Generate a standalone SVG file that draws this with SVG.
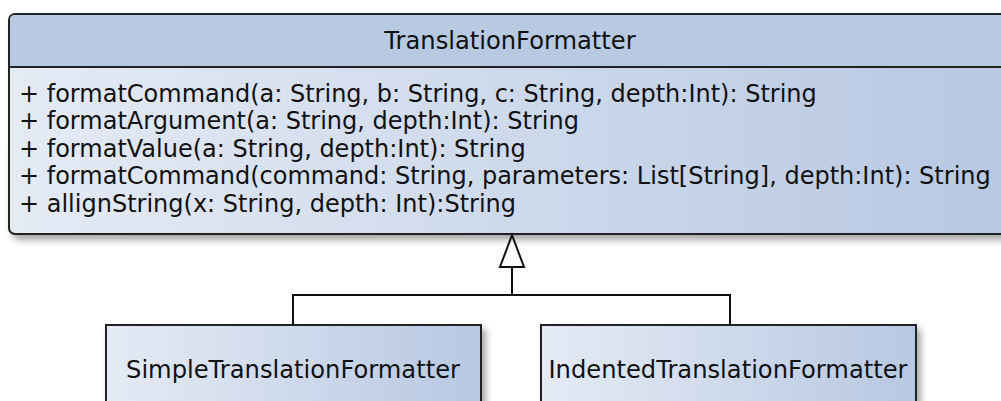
<svg xmlns="http://www.w3.org/2000/svg" width="1001" height="401" viewBox="0 0 1001 401">
  <defs>
    <linearGradient id="bodyFill" gradientUnits="userSpaceOnUse" x1="9" y1="0" x2="1010" y2="0">
      <stop offset="0" stop-color="#e5ebf5"/>
      <stop offset="1" stop-color="#b7c8e2"/>
    </linearGradient>
    <linearGradient id="leafFill" x1="0" y1="0" x2="1" y2="0">
      <stop offset="0" stop-color="#e5ebf5"/>
      <stop offset="1" stop-color="#b7c8e2"/>
    </linearGradient>
    <filter id="shadow" x="-10%" y="-10%" width="130%" height="140%">
      <feDropShadow dx="4" dy="5" stdDeviation="3.5" flood-color="#000" flood-opacity="0.35"/>
    </filter>
  </defs>
  <style>
    text { font-family: "DejaVu Sans", "Liberation Sans", sans-serif; fill: #111; }
    .title { font-size: 24.2px; text-anchor: middle; }
    .member { font-size: 24px; }
    .edge { stroke: #111; stroke-width: 2; fill: none; }
    .box { stroke: #222; stroke-width: 2; }
  </style>
  <rect width="1001" height="401" fill="#ffffff"/>

  <!-- base class -->
  <g id="TranslationFormatter">
    <rect class="box" x="9" y="14" width="1020" height="220" rx="6" fill="url(#bodyFill)" filter="url(#shadow)"/>
    <path d="M10 67 V20 Q10 15 15 15 H1029 V67 Z" fill="#b8c9e2"/>
    <line x1="9" y1="67" x2="1029" y2="67" stroke="#222" stroke-width="2"/>
    <text class="title" x="510" y="49">TranslationFormatter</text>
    <text class="member" x="19" y="102">+ formatCommand(a: String, b: String, c: String, depth:Int): String</text>
    <text class="member" x="19" y="129">+ formatArgument(a: String, depth:Int): String</text>
    <text class="member" x="19" y="157">+ formatValue(a: String, depth:Int): String</text>
    <text class="member" x="19" y="184">+ formatCommand(command: String, parameters: List[String], depth:Int): String</text>
    <text class="member" x="19" y="212">+ allignString(x: String, depth: Int):String</text>
  </g>

  <!-- subclasses -->
  <g id="SimpleTranslationFormatter">
    <rect class="box" x="106" y="325" width="375" height="100" fill="url(#leafFill)" filter="url(#shadow)"/>
    <text class="title" x="293" y="378">SimpleTranslationFormatter</text>
  </g>
  <g id="IndentedTranslationFormatter">
    <rect class="box" x="541" y="325" width="375" height="100" fill="url(#leafFill)" filter="url(#shadow)"/>
    <text class="title" x="728" y="378">IndentedTranslationFormatter</text>
  </g>

  <!-- inheritance connectors -->
  <g id="connectors">
    <polyline class="edge" points="293,325 293,295 730,295 730,325"/>
    <line class="edge" x1="512" y1="295" x2="512" y2="267"/>
    <polygon class="edge" points="512,235 500,267 524,267" fill="#ffffff"/>
  </g>
</svg>
